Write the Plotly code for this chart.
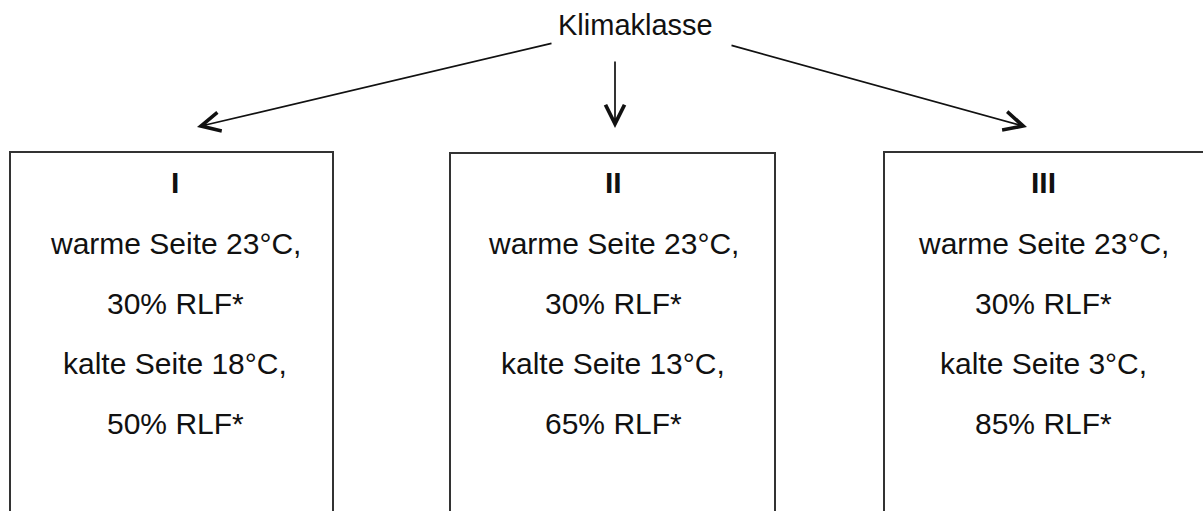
import plotly.graph_objects as go

# ---- data ----
title_text = "Klimaklasse"
classes = ["I", "II", "III"]
warm_temp = [23, 23, 23]
warm_rlf = [30, 30, 30]
cold_temp = [18, 13, 3]
cold_rlf = [50, 65, 85]

# ---- layout geometry (pixel space of the window) ----
W, H = 1203, 511
box_left = [10, 450, 884]
box_right = [333, 775, 1230]
box_top = [152, 153, 152]
text_cx = [175, 613, 1043]
line_y = [182, 243, 303, 363, 423]
title_xy = (635, 25)
arrow_tails = [(553, 43), (615, 60), (730, 45)]
arrow_tips = [(197, 127), (615, 128), (1027, 127)]

FONT = "Liberation Sans, Arial, sans-serif"
fs_title = 29
fs_box = 30

fig = go.Figure()

shapes = []
annotations = []

for i, cls in enumerate(classes):
    shapes.append(dict(type="rect", xref="x", yref="y",
                       x0=box_left[i], x1=box_right[i], y0=box_top[i], y1=H + 30,
                       line=dict(color="#333333", width=2), fillcolor="rgba(0,0,0,0)"))
    lines = [
        f"<b>{cls}</b>",
        f"warme Seite {warm_temp[i]}°C,",
        f"{warm_rlf[i]}% RLF*",
        f"kalte Seite {cold_temp[i]}°C,",
        f"{cold_rlf[i]}% RLF*",
    ]
    for ly, txt in zip(line_y, lines):
        annotations.append(dict(x=text_cx[i], y=ly, xref="x", yref="y", text=txt,
                                showarrow=False, xanchor="center", yanchor="middle",
                                font=dict(family=FONT, size=fs_box, color="#111111")))

annotations.append(dict(x=title_xy[0], y=title_xy[1], xref="x", yref="y", text=title_text,
                        showarrow=False, xanchor="center", yanchor="middle",
                        font=dict(family=FONT, size=fs_title, color="#111111")))

for (tx, ty), (hx, hy) in zip(arrow_tails, arrow_tips):
    annotations.append(dict(x=hx, y=hy, ax=tx, ay=ty, xref="x", yref="y",
                            axref="x", ayref="y", text="", showarrow=True,
                            arrowhead=5, arrowsize=2.2, arrowwidth=1.7,
                            arrowcolor="#111111", standoff=0, startstandoff=0))

fig.update_layout(
    width=W, height=H,
    margin=dict(l=0, r=0, t=0, b=0),
    paper_bgcolor="white", plot_bgcolor="white",
    xaxis=dict(range=[0, W], visible=False, fixedrange=True),
    yaxis=dict(range=[H, 0], visible=False, fixedrange=True),
    shapes=shapes, annotations=annotations, showlegend=False,
)

fig.write_html(
    "out.html",
    config={"displayModeBar": False},
    post_script="document.body.style.margin='0';document.body.style.overflow='hidden';",
)
